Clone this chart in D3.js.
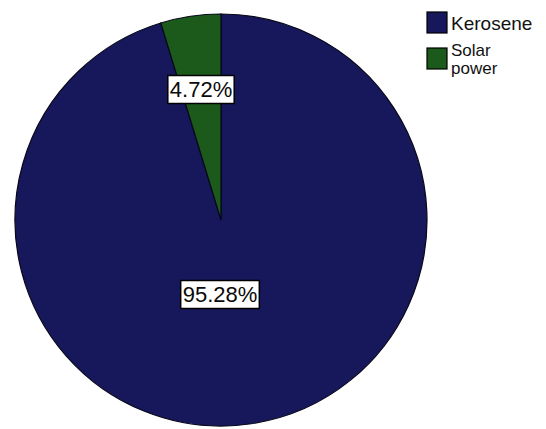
<!DOCTYPE html>
<html>
<head>
<meta charset="utf-8">
<script src="https://cdn.jsdelivr.net/npm/d3@7"></script>
<style>
  html, body { margin: 0; padding: 0; background: #fff; }
  svg { display: block; font-family: Arial, "Liberation Sans", sans-serif; }
</style>
</head>
<body>
<svg id="chart" width="546" height="429"></svg>
<script>
// Energy source shares
const categories = ["Kerosene", "Solar power"];
const shares = [95.28, 4.72];
const labels = ["95.28%", "4.72%"];
const legendLines = [["Kerosene"], ["Solar", "power"]];
const colors = ["#17175c", "#1b5a1b"];

const svg = d3.select("#chart");
const cx = 221, cy = 220, r = 206;

const color = d3.scaleOrdinal().domain(categories).range(colors);

// Kerosene sweeps clockwise from 12 o'clock; solar fills the remainder
const pie = d3.pie().sort(null).value(d => d.v);
const data = categories.map((c, i) => ({ c, v: shares[i], label: labels[i] }));
const arcs = pie(data);
const arc = d3.arc().innerRadius(0).outerRadius(r);

const g = svg.append("g").attr("transform", `translate(${cx},${cy})`);

g.selectAll("path.slice")
  .data(arcs)
  .join("path")
  .attr("class", "slice")
  .attr("d", arc)
  .attr("fill", d => color(d.data.c))
  .attr("stroke", "#08081a")
  .attr("stroke-width", 1.2);

// Percentage labels in boxed tags
const labelAt = { "Kerosene": [-1, 74], "Solar power": [-20, -131] };
arcs.forEach(a => {
  const [x, y] = labelAt[a.data.c];
  const lg = g.append("g").attr("transform", `translate(${x},${y})`);
  const t = lg.append("text")
    .attr("text-anchor", "middle")
    .attr("dominant-baseline", "central")
    .attr("font-size", 22)
    .attr("fill", "#0a0a0a")
    .text(a.data.label);
  const bb = t.node().getBBox();
  lg.insert("rect", "text")
    .attr("x", bb.x - 2)
    .attr("y", bb.y - 1)
    .attr("width", bb.width + 4)
    .attr("height", bb.height + 3)
    .attr("fill", "#fff")
    .attr("stroke", "#000")
    .attr("stroke-width", 1.5);
});

// Legend
const legend = svg.append("g").attr("transform", "translate(427,12)");
const rowY = [0, 36];
categories.forEach((c, i) => {
  const row = legend.append("g").attr("transform", `translate(0,${rowY[i]})`);
  row.append("rect")
    .attr("x", 0).attr("y", 0)
    .attr("width", 20).attr("height", 21)
    .attr("fill", color(c))
    .attr("stroke", "#000")
    .attr("stroke-width", 1.2);
  const multi = legendLines[i].length > 1;
  legendLines[i].forEach((line, j) => {
    row.append("text")
      .attr("x", 24)
      .attr("y", (multi ? 8 : 18) + j * 18)
      .attr("font-size", multi ? 17 : 19)
      .attr("fill", "#111")
      .text(line);
  });
});
</script>
</body>
</html>
